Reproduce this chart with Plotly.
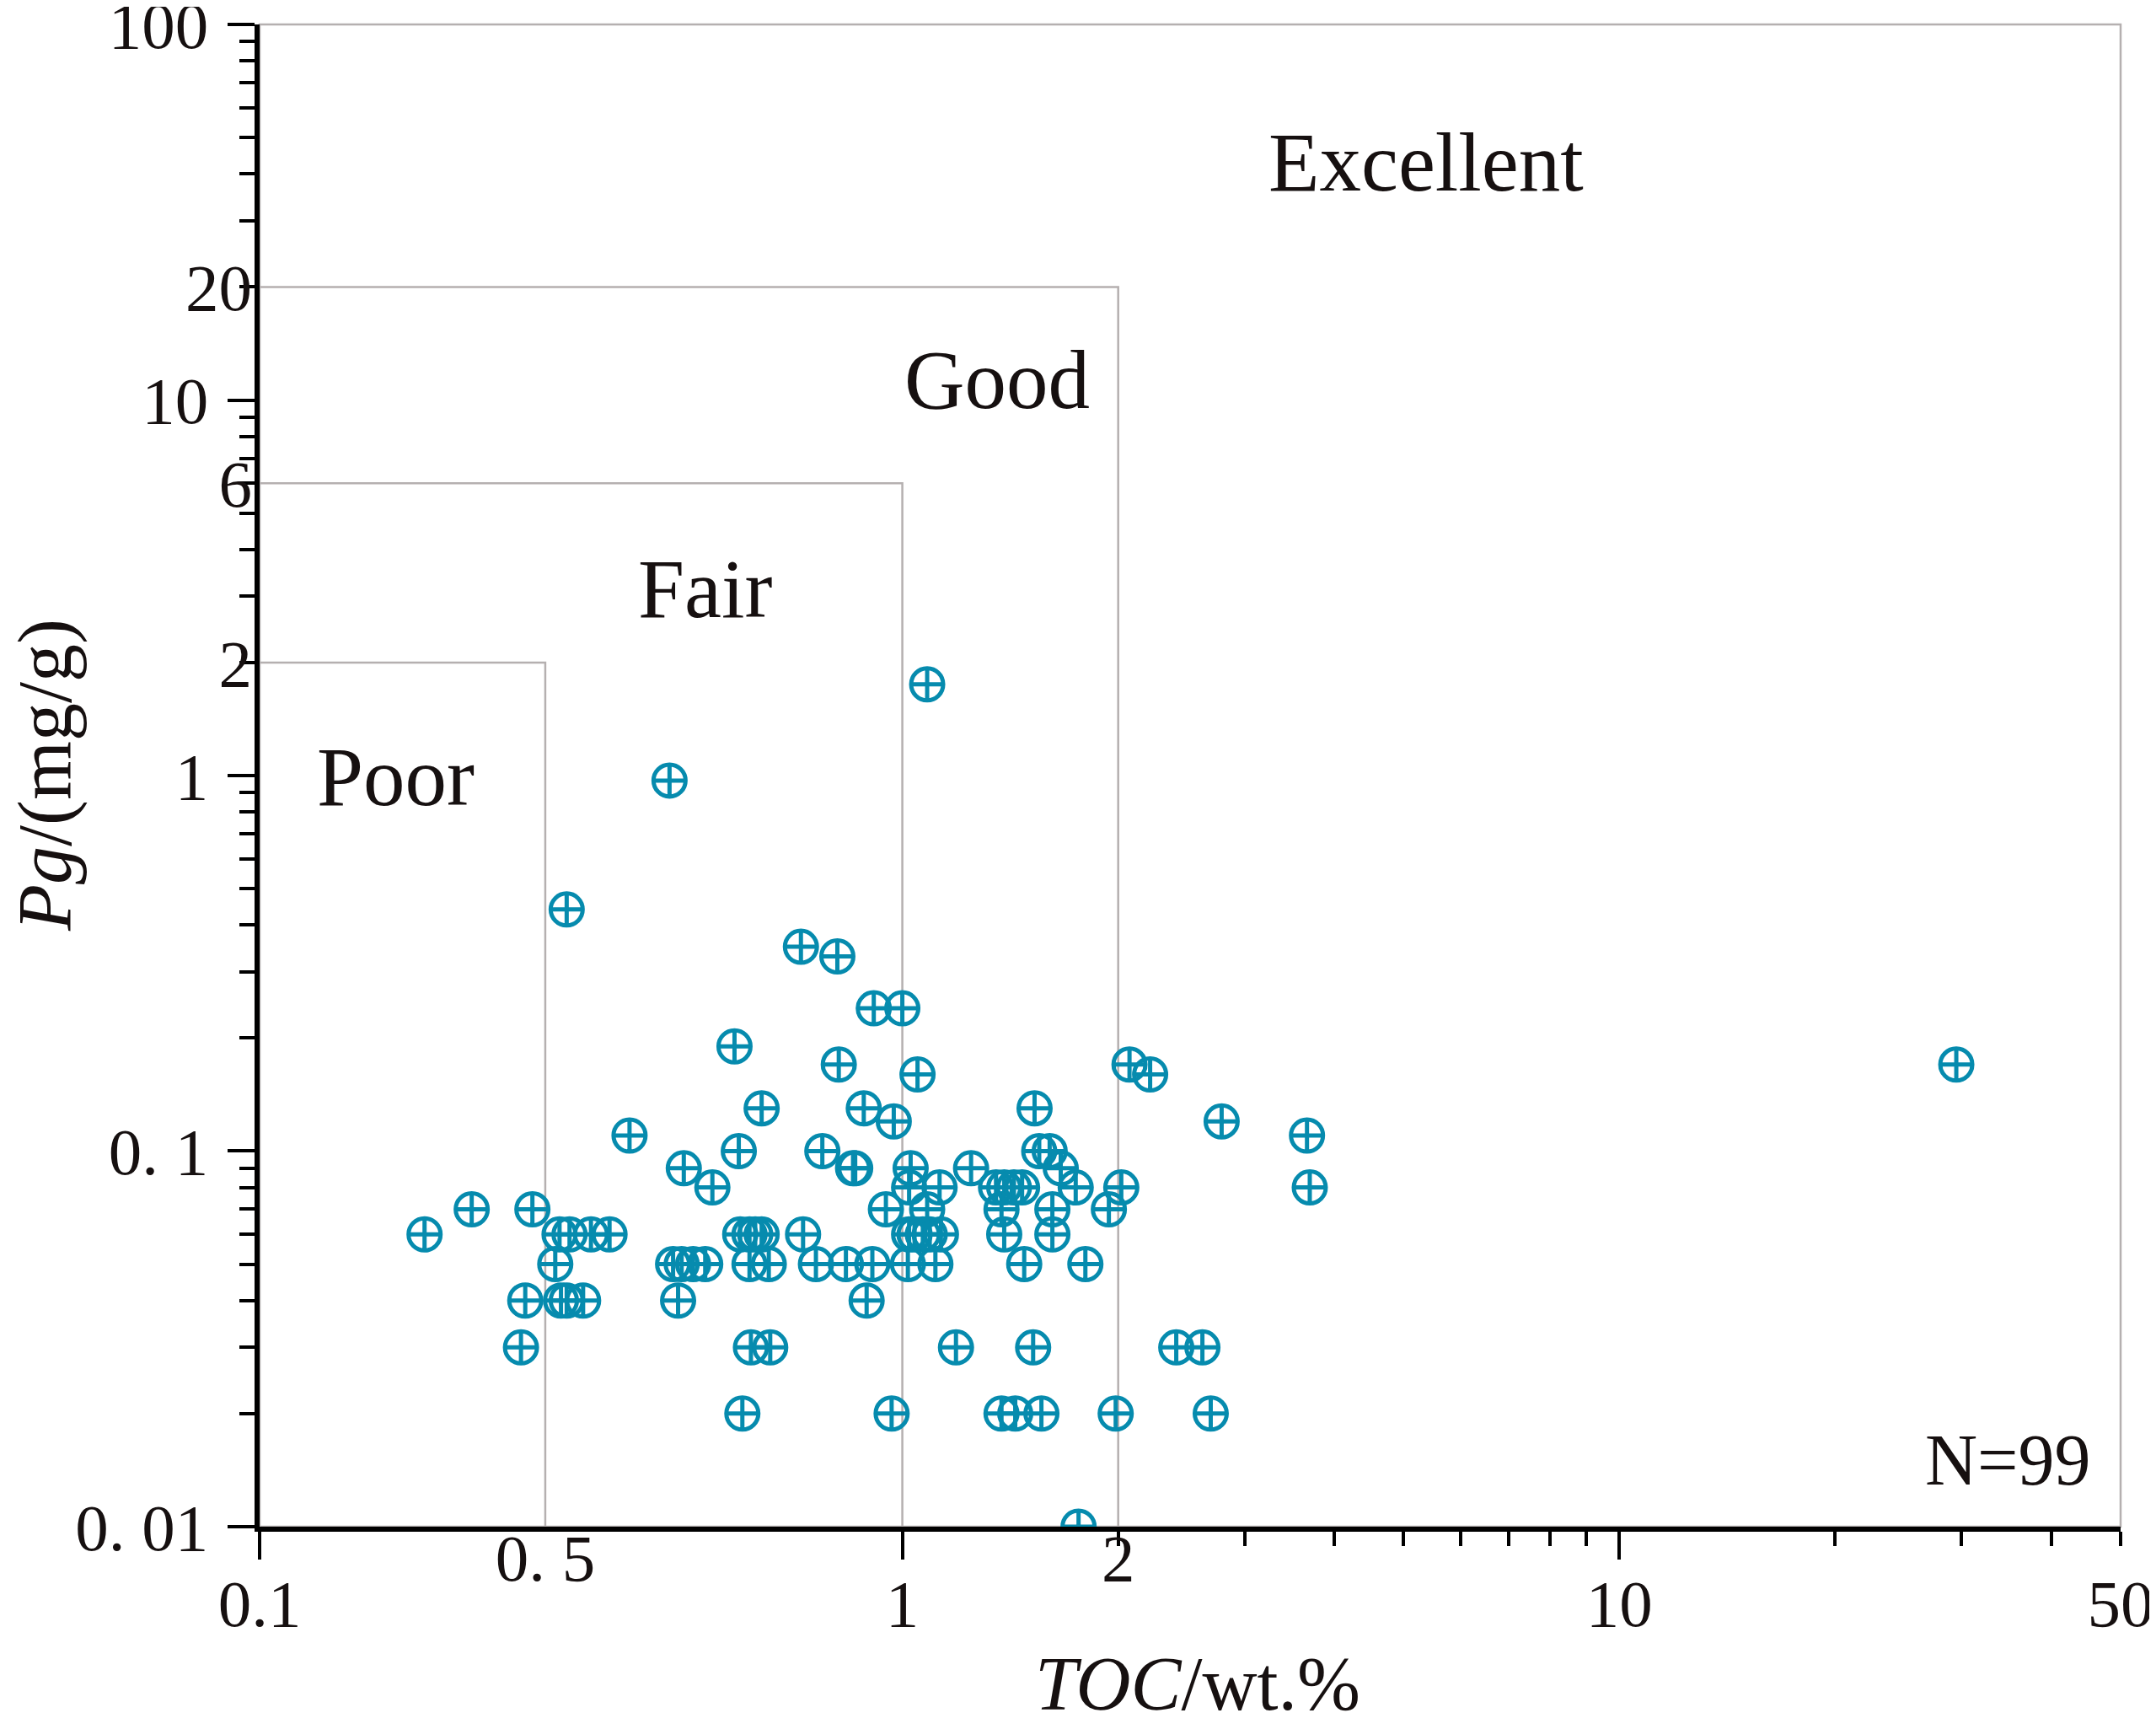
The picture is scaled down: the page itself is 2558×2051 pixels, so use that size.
import numpy as np
import plotly.graph_objects as go

# TOC (wt.%) and Pg (mg/g) of the 99 samples
toc = [0.776, 0.985, 1.375, 1.437, 1.563, 1.984, 2.692,
       0.466, 0.788, 0.815, 1.188, 1.522, 2.410, 2.621,
       0.472, 0.522, 0.530, 0.553, 0.686, 0.950,
       0.514, 0.679, 0.691, 0.707, 0.724, 0.786, 0.813, 0.879, 0.921, 0.958, 1.018, 1.112, 1.479, 1.800,
       0.331, 0.520, 0.534, 0.564, 0.590, 0.773, 0.786, 0.794, 0.803, 0.861, 1.022, 1.040, 1.068, 1.092,
       1.132, 1.387, 1.619,
       0.397, 0.482, 0.977, 1.083, 1.375, 1.619, 1.941,
       0.734, 1.022, 1.127, 1.351, 1.387, 1.431, 1.469, 1.745, 2.020, 3.700,
       0.694, 0.931, 0.934, 1.027, 1.247, 1.663,
       0.771, 0.888, 1.552, 1.605,
       0.618, 3.667,
       0.988, 2.788,
       0.803, 0.946, 1.529,
       1.050, 2.216,
       0.911, 2.074, 29.5,
       0.765,
       0.960, 1.000,
       0.858, 0.909,
       0.530,
       0.674,
       1.083,
       1.761]
pg = [0.02] * 7 + [0.03] * 7 + [0.04] * 6 + [0.05] * 14 + [0.06] * 17 + [0.07] * 7 + \
     [0.08] * 10 + [0.09] * 6 + [0.10] * 4 + [0.11] * 2 + [0.12] * 2 + [0.13] * 3 + \
     [0.16] * 2 + [0.17] * 3 + [0.19] + [0.24] * 2 + [0.35, 0.33] + [0.44] + [0.97] + \
     [1.75] + [0.01]

# class limits: Poor / Fair / Good (upper bounds), Excellent above
toc_limits = [0.5, 1, 2]
pg_limits = [2, 6, 20]
classes = ['Poor', 'Fair', 'Good', 'Excellent']
class_toc = [0.291, 0.724, 1.357, 5.37]
class_pg = [0.99, 3.15, 11.3, 43.0]

x_major = [0.1, 1, 10]
x_labels_low = ['0.1', '1', '10', '50']
x_labels_low_at = [0.1, 1, 10, 50]
x_labels_up = ['0. 5', '2']
x_labels_up_at = [0.5, 2]
x_minor = [2, 3, 4, 5, 6, 7, 8, 9, 20, 30, 40, 50]

y_major = [0.01, 0.1, 1, 10, 100]
y_major_text = ['0. 01', '0. 1', '1', '10', '100']
y_extra = [2, 6, 20]
y_minor = [k * 10.0 ** d for d in range(-2, 2) for k in range(2, 10)]

# the original x axis is linear between 0.1 and 1, logarithmic from 1 to 50
SPLIT = 467 / 521


def xpos(v):
    v = np.asarray(v, dtype=float)
    return np.where(v >= 1, np.log10(np.clip(v, 1, None)), (v - 1) / 0.9 * SPLIT)


FONT = 'Liberation Serif'
INK = '#161010'
GREY = '#b5b0b0'
BLUE = '#068bae'

fig = go.Figure()

# class boundary lines
for tl, pl in zip(toc_limits, pg_limits):
    fig.add_trace(go.Scatter(x=xpos([0.1, tl, tl]), y=[pl, pl, 0.01], mode='lines',
                             line=dict(color=GREY, width=2.5), hoverinfo='skip',
                             showlegend=False, cliponaxis=False))

fig.add_trace(go.Scatter(x=xpos(toc), y=pg, mode='markers', showlegend=False,
                         marker=dict(symbol='circle-cross-open', size=38, color=BLUE,
                                     line=dict(color=BLUE, width=5))))

for name, cx, cy in zip(classes, class_toc, class_pg):
    fig.add_annotation(x=float(xpos(cx)), y=np.log10(cy), text=name, showarrow=False,
                       font=dict(family=FONT, size=99, color=INK))

fig.add_annotation(x=float(xpos(34.8)), y=np.log10(0.0150), text='N=99', showarrow=False,
                   font=dict(family=FONT, size=86, color=INK))

# axis titles
fig.add_annotation(xref='paper', yref='paper', x=0.504, y=-0.1047, text='<i>TOC</i>/wt.%',
                   showarrow=False, yanchor='middle', font=dict(family=FONT, size=90, color=INK))
fig.add_annotation(xref='paper', yref='paper', x=-0.1150, y=0.500, text='<i>Pg</i>/(mg/g)',
                   textangle=-90, showarrow=False, xanchor='center', yanchor='middle',
                   font=dict(family=FONT, size=90, color=INK))

rng_x = [float(xpos(0.1)), float(xpos(50))]
rng_y = [-2.0002, 2.0002]
tick_font = dict(family=FONT, size=79, color=INK)

# the page body keeps an 8 px margin, so the figure is 8 px smaller than the window
fig.update_layout(
    width=2550, height=2043,
    margin=dict(l=300, r=42, t=21, b=240, autoexpand=False),
    paper_bgcolor='white', plot_bgcolor='white',
    shapes=[dict(type='rect', xref='paper', yref='paper', x0=0, y0=0, x1=1, y1=1,
                 line=dict(color=GREY, width=2.5), layer='below')],
    xaxis=dict(range=rng_x, showgrid=False, zeroline=False, showline=True, automargin=False,
               linecolor='black', linewidth=6, ticks='outside', ticklen=33, tickwidth=4,
               tickcolor='black', tickmode='array', tickvals=xpos(x_major).tolist(),
               showticklabels=False,
               minor=dict(tickmode='array', tickvals=xpos(x_minor).tolist(), ticks='outside',
                          ticklen=17, tickwidth=4, tickcolor='black', showgrid=False)),
    xaxis2=dict(range=rng_x, overlaying='x', anchor='y', side='bottom', showgrid=False,
                zeroline=False, showline=False, ticks='', tickmode='array', automargin=False,
                tickvals=xpos(x_labels_low_at).tolist(), ticktext=x_labels_low,
                tickfont=tick_font, ticklabelstandoff=38),
    xaxis3=dict(range=rng_x, overlaying='x', anchor='y', side='bottom', showgrid=False,
                zeroline=False, showline=False, ticks='', tickmode='array', automargin=False,
                tickvals=xpos(x_labels_up_at).tolist(), ticktext=x_labels_up,
                tickfont=tick_font, ticklabelstandoff=-16),
    yaxis=dict(type='log', range=rng_y, showgrid=False, zeroline=False, showline=True,
               linecolor='black', linewidth=6, ticks='outside', ticklen=32, tickwidth=4,
               tickcolor='black', tickmode='array', tickvals=y_major, ticktext=y_major_text,
               tickfont=tick_font, ticklabelstandoff=7, ticklabeloverflow='allow',
               automargin=False,
               minor=dict(tickmode='array', tickvals=y_minor, ticks='outside',
                          ticklen=18, tickwidth=4, tickcolor='black', showgrid=False)),
    yaxis2=dict(type='log', range=rng_y, overlaying='y', anchor='x', side='left',
                showgrid=False, zeroline=False, showline=False, ticks='', tickmode='array',
                tickvals=y_extra, ticktext=[str(v) for v in y_extra], tickfont=tick_font,
                ticklabelstandoff=8, automargin=False),
)

# invisible traces so that the overlay axes are drawn
fig.add_trace(go.Scatter(x=[None], y=[None], xaxis='x2', yaxis='y2', showlegend=False))
fig.add_trace(go.Scatter(x=[None], y=[None], xaxis='x3', yaxis='y', showlegend=False))

fig.write_html('out.html')
